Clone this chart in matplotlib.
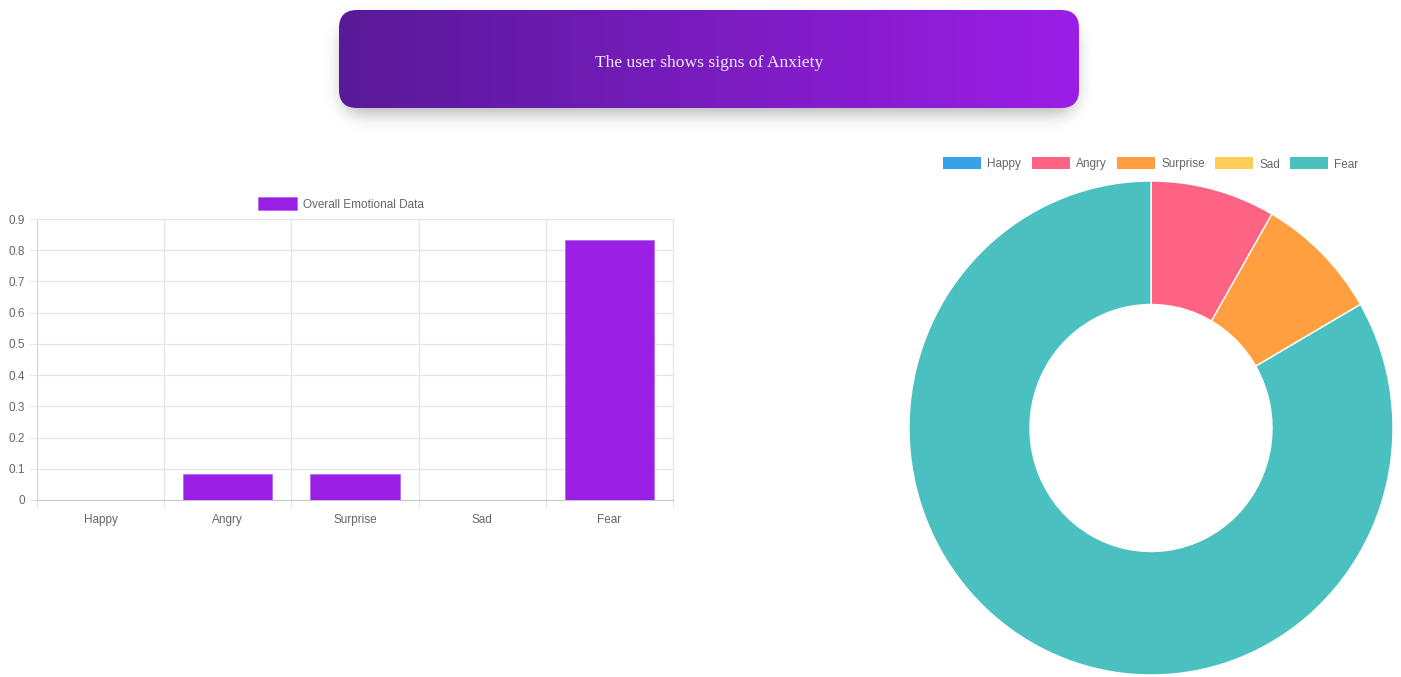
import numpy as np
import matplotlib
matplotlib.use("Agg")
import matplotlib.pyplot as plt
from matplotlib.patches import FancyBboxPatch, Rectangle

# Emotion scores
emotions = ["Happy", "Angry", "Surprise", "Sad", "Fear"]
scores = [0.0, 0.0833, 0.0833, 0.0, 0.8333]
bar_label = "Overall Emotional Data"
verdict = "The user shows signs of Anxiety"
y_ticks = [0, 0.1, 0.2, 0.3, 0.4, 0.5, 0.6, 0.7, 0.8, 0.9]

bar_color = "#9b1ee5"
slice_colors = ["#36a2eb", "#ff6384", "#ff9f40", "#ffcd56", "#4bc0c0"]
grid_c = "#e6e6e6"
txt_c = "#666666"
sans = "Liberation Sans"
fs = 8.5

W, H = 1401, 677
fig = plt.figure(figsize=(W / 100, H / 100), dpi=100)
fig.patch.set_facecolor("white")

def px(x0, y0, x1, y1):
    # pixel box (top-left origin) -> figure fraction rect
    return [x0 / W, 1 - y1 / H, (x1 - x0) / W, (y1 - y0) / H]

# overlay in pixel coordinates for the banner and legends
ov = fig.add_axes([0, 0, 1, 1], zorder=0)
ov.set_xlim(0, W)
ov.set_ylim(H, 0)
ov.axis("off")

bx0, by0, bx1, by1 = 339, 10, 1079, 108
rad = 18

# soft drop shadow: blurred rounded-rect mask
sx0, sy0, sx1, sy1 = 290, 0, 1130, 160
yy, xx = np.mgrid[sy0:sy1, sx0:sx1] + 0.5
off = 9
cx, cy = (bx0 + bx1) / 2, (by0 + by1) / 2 + off
hw, hh = (bx1 - bx0) / 2 - 4, (by1 - by0) / 2 - 4
ddx = np.maximum(np.abs(xx - cx) - (hw - rad), 0)
ddy = np.maximum(np.abs(yy - cy) - (hh - rad), 0)
mask = (np.hypot(ddx, ddy) <= rad).astype(float)
sig = 9
k = np.arange(-3 * sig, 3 * sig + 1)
kern = np.exp(-k ** 2 / (2 * sig ** 2))
kern /= kern.sum()
blur = np.apply_along_axis(lambda r: np.convolve(r, kern, mode="same"), 1, mask)
blur = np.apply_along_axis(lambda c: np.convolve(c, kern, mode="same"), 0, blur)
shadow = np.zeros(blur.shape + (4,))
shadow[..., 3] = blur * 0.32
ov.imshow(shadow, extent=[sx0, sx1, sy1, sy0], aspect="auto", zorder=1, interpolation="bilinear")

# banner with horizontal gradient
banner = FancyBboxPatch((bx0, by0), bx1 - bx0, by1 - by0,
                        boxstyle=f"round,pad=0,rounding_size={rad}",
                        facecolor="none", edgecolor="none")
ov.add_patch(banner)
c0 = np.array([0x58, 0x1a, 0x98]) / 255
c1 = np.array([0x9b, 0x1e, 0xe6]) / 255
t = np.linspace(0, 1, 256)
grad = (c0[None, :] * (1 - t[:, None]) + c1[None, :] * t[:, None])[None, :, :]
im = ov.imshow(grad, extent=[bx0, bx1, by1, by0], aspect="auto", zorder=2)
im.set_clip_path(banner)
ov.text((bx0 + bx1) / 2, 67, verdict, ha="center", va="baseline", color="#f3ecf8",
        fontsize=12.6, family="Liberation Serif", zorder=3)

# bar chart
ax = fig.add_axes(px(37, 219, 673, 500), zorder=1)
x = np.arange(len(emotions))
ax.bar(x, scores, width=0.7, color=bar_color, edgecolor="#b36cf0", linewidth=0.6, zorder=3)
ax.set_xlim(-0.5, len(emotions) - 0.5)
ax.set_ylim(0, 0.9)
ax.set_yticks(y_ticks)
ax.set_yticklabels([f"{v:g}" for v in y_ticks], family=sans)
ax.set_xticks(x)
ax.set_xticklabels(emotions, family=sans)
ax.set_xticks(np.arange(-0.5, len(emotions)), minor=True)
ax.tick_params(axis="x", which="major", length=0, pad=10, labelsize=fs, labelcolor=txt_c)
ax.tick_params(axis="x", which="minor", length=5.8, width=0.75, color=grid_c)
ax.tick_params(axis="y", length=5, width=0.75, color=grid_c, pad=3.5, labelsize=fs, labelcolor=txt_c)
ax.grid(axis="y", color=grid_c, linewidth=0.9, zorder=0)
ax.grid(axis="x", which="minor", color=grid_c, linewidth=0.9, zorder=0)
for s in ["top", "right"]:
    ax.spines[s].set_color(grid_c)
ax.spines["left"].set_color("#d6d6d6")
ax.spines["bottom"].set_color("#c8c8c8")

# bar legend
ov.add_patch(Rectangle((258, 197), 39, 13, facecolor=bar_color, edgecolor="#b36cf0", linewidth=0.6))
ov.text(303, 207.5, bar_label, ha="left", va="baseline", fontsize=fs, color=txt_c, family=sans)

# doughnut
dx = fig.add_axes(px(909, 181, 1393, 675), zorder=1)
dx.pie(scores, colors=slice_colors, startangle=90, counterclock=False, radius=1,
       wedgeprops=dict(width=0.5, edgecolor="white", linewidth=1))
dx.set_aspect("auto")
dx.set_xlim(-1, 1)
dx.set_ylim(-1, 1)
dx.axis("off")

# doughnut legend
leg_x = [943, 1032, 1117, 1215, 1290]
for lx, name, col in zip(leg_x, emotions, slice_colors):
    ov.add_patch(Rectangle((lx, 157), 38, 12, facecolor=col, edgecolor="none"))
    ov.text(lx + 44, 167.5, name, ha="left", va="baseline", fontsize=fs, color=txt_c, family=sans)

fig.savefig("out.png", dpi=100)
